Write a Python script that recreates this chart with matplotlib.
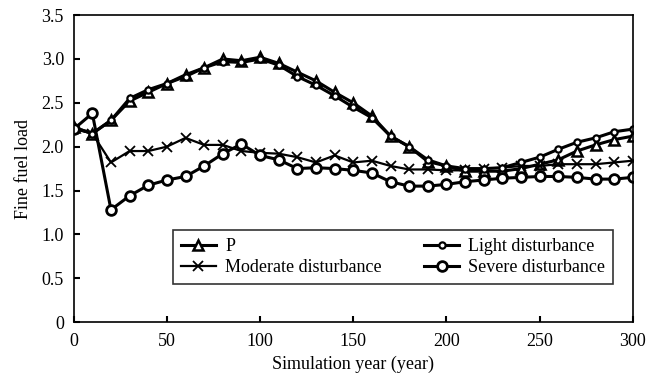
import matplotlib
matplotlib.use("Agg")
from matplotlib import pyplot as plt

plt.rcParams['font.family'] = ['Liberation Serif', 'DejaVu Serif']

years = list(range(0, 301, 10))

p_vals = [2.22, 2.15, 2.30, 2.52, 2.62, 2.72, 2.82, 2.90, 3.00, 2.98, 3.02,
          2.95, 2.85, 2.75, 2.62, 2.50, 2.35, 2.12, 2.00, 1.83, 1.78,
          1.72, 1.72, 1.72, 1.75, 1.80, 1.85, 1.95, 2.02, 2.08, 2.12]
light_vals = [2.22, 2.15, 2.30, 2.55, 2.65, 2.72, 2.80, 2.90, 2.97, 2.96, 3.00,
              2.93, 2.80, 2.70, 2.58, 2.45, 2.33, 2.12, 2.00, 1.85, 1.78,
              1.75, 1.75, 1.76, 1.82, 1.88, 1.97, 2.05, 2.10, 2.17, 2.20]
moderate_vals = [2.20, 2.15, 1.82, 1.95, 1.95, 2.00, 2.10, 2.02, 2.02, 1.95, 1.93,
                 1.92, 1.88, 1.82, 1.90, 1.82, 1.84, 1.78, 1.74, 1.74, 1.73,
                 1.73, 1.75, 1.76, 1.78, 1.78, 1.80, 1.80, 1.80, 1.82, 1.84]
severe_vals = [2.20, 2.38, 1.28, 1.44, 1.56, 1.62, 1.66, 1.78, 1.92, 2.03, 1.90,
               1.85, 1.75, 1.76, 1.75, 1.73, 1.70, 1.60, 1.55, 1.55, 1.57,
               1.60, 1.62, 1.64, 1.65, 1.66, 1.66, 1.65, 1.63, 1.63, 1.65]

yticks = [0, 0.5, 1.0, 1.5, 2.0, 2.5, 3.0, 3.5]
ytick_labels = ['0', '0.5', '1.0', '1.5', '2.0', '2.5', '3.0', '3.5']

fig = plt.figure(figsize=(6.64, 3.78), dpi=100)
ax = fig.add_axes([0.111, 0.148, 0.842, 0.812])

ax.plot(years, p_vals, 'k-', lw=2.2, marker='^', ms=7, mfc='white', mec='black', mew=1.8, label='P')
ax.plot(years, moderate_vals, 'k-', lw=1.6, marker='x', ms=7, mew=1.3, label='Moderate disturbance')
ax.plot(years, light_vals, 'k-', lw=2.2, marker='o', ms=4.5, mfc='white', mec='black', mew=1.6, label='Light disturbance')
ax.plot(years, severe_vals, 'k-', lw=2.2, marker='o', ms=7, mfc='white', mec='black', mew=2, label='Severe disturbance')

ax.set_xlim(0, 300)
ax.set_ylim(0, 3.5)
ax.set_xticks(range(0, 301, 50))
ax.set_yticks(yticks)
ax.set_yticklabels(ytick_labels)
ax.tick_params(direction='in', labelsize=13, length=4, width=1.5)
ax.tick_params(axis='x', pad=8)
ax.tick_params(axis='y', pad=7)
for s in ax.spines.values():
    s.set_linewidth(1.2)

ax.set_xlabel('Simulation year (year)', fontsize=13, labelpad=4)
ax.set_ylabel('Fine fuel load', fontsize=13, labelpad=7)

leg = ax.legend(ncol=2, loc='lower left', bbox_to_anchor=(0.177, 0.124),
                borderaxespad=0, fontsize=13, frameon=True, fancybox=False,
                edgecolor='black', handlelength=1.95, handletextpad=0.5,
                borderpad=0.45, labelspacing=0.2, columnspacing=2.35)
leg.get_frame().set_linewidth(1.2)

fig.savefig('out.png', dpi=100)
